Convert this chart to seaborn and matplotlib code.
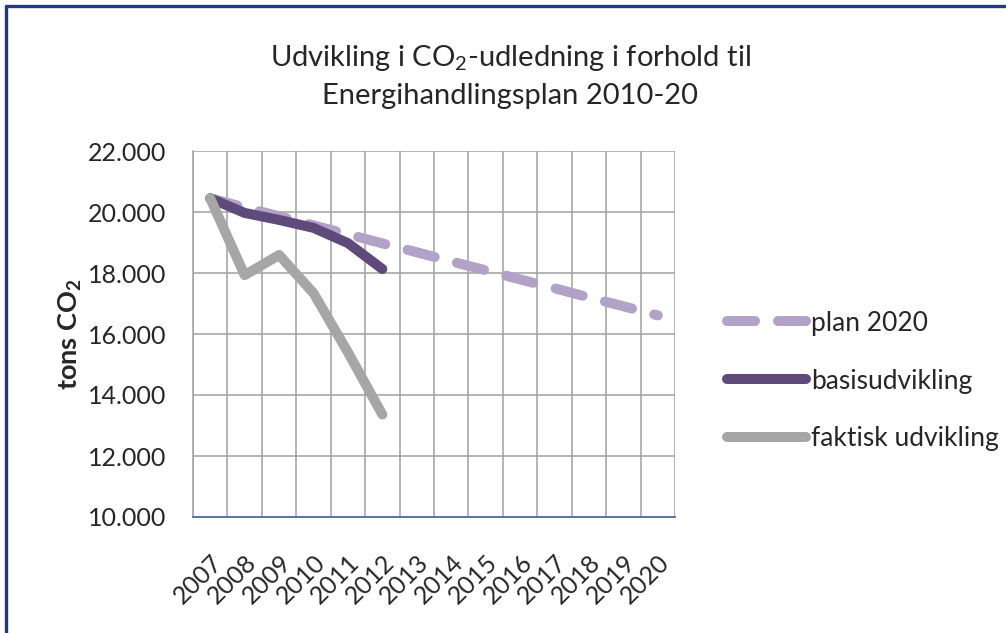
import matplotlib
matplotlib.use("Agg")
import matplotlib.pyplot as plt
import seaborn as sns
import pandas as pd
from matplotlib.lines import Line2D
from matplotlib.ticker import FuncFormatter, FixedLocator

years = ["2007", "2008", "2009", "2010", "2011", "2012", "2013",
         "2014", "2015", "2016", "2017", "2018", "2019", "2020"]
plan_2020 = [20450, 20150, 19860, 19560, 19270, 18970, 18680,
             18380, 18090, 17790, 17500, 17200, 16910, 16610]
basisudvikling = [20450, 19970, 19740, 19480, 18980, 18130]
faktisk_udvikling = [20450, 17930, 18590, 17340, 15400, 13360]
y_ticks = [10000, 12000, 14000, 16000, 18000, 20000, 22000]

sns.set_style("white")
plt.rcParams['font.family'] = ['Lato', 'DejaVu Sans']
plt.rcParams['mathtext.fontset'] = 'custom'
plt.rcParams['mathtext.rm'] = 'Lato'
plt.rcParams['mathtext.bf'] = 'Lato:bold'

W, H = 1006, 633
fig = plt.figure(figsize=(W / 100, H / 100), dpi=100)
ax = fig.add_axes([193 / W, 1 - 517 / H, (675 - 193) / W, (517 - 151) / H])

df_plan = pd.DataFrame({"x": range(len(years)), "y": plan_2020})
df_basis = pd.DataFrame({"x": range(len(basisudvikling)), "y": basisudvikling})
df_fak = pd.DataFrame({"x": range(len(faktisk_udvikling)), "y": faktisk_udvikling})

lw = 7.2
sns.lineplot(data=df_plan, x="x", y="y", ax=ax, color="#B3A2C7", linewidth=lw, zorder=3)
sns.lineplot(data=df_basis, x="x", y="y", ax=ax, color="#604A7B", linewidth=lw, zorder=4)
sns.lineplot(data=df_fak, x="x", y="y", ax=ax, color="#A6A6A6", linewidth=lw, zorder=5)

lines = ax.get_lines()
l_plan, l_basis, l_fak = lines[0], lines[1], lines[2]
l_plan.set_dashes((2.8, 2.3))
l_plan.set_dash_capstyle("round")
for l in (l_basis, l_fak):
    l.set_solid_capstyle("round")
    l.set_solid_joinstyle("round")

ax.set_xlim(-0.5, len(years) - 0.5)
ax.set_ylim(10000, 22000)
ax.set_xticks(range(len(years)))
ax.set_xticklabels(years, rotation=45, ha="right", rotation_mode="anchor", fontsize=18)
ax.xaxis.set_minor_locator(FixedLocator([i - 0.5 for i in range(len(years) + 1)]))
ax.set_yticks(y_ticks)
ax.yaxis.set_major_formatter(FuncFormatter(lambda v, p: f"{int(v):,}".replace(",", ".")))
ax.tick_params(axis="y", labelsize=18, length=0, pad=19)
ax.tick_params(axis="x", which="both", length=0, pad=24)

ax.grid(False)
ax.grid(True, axis="y", which="major", color="#A0A0A0", linewidth=1.1, zorder=0)
ax.grid(True, axis="x", which="minor", color="#A0A0A0", linewidth=1.1, zorder=0)
ax.set_axisbelow(True)
for s in ("top", "right"):
    ax.spines[s].set_visible(False)
ax.spines["left"].set_color("#A0A0A0")
ax.spines["left"].set_linewidth(1.1)
ax.spines["bottom"].set_color("#4F6D9E")
ax.spines["bottom"].set_linewidth(1.3)

ax.set_xlabel("")
ax.set_ylabel("")
fig.text(70 / W, 1 - 334 / H, "tons CO$_\\mathregular{2}$", rotation=90,
         ha="center", va="center", fontsize=19.5, fontweight="bold")

fig.text(510 / W, 1 - 76 / H,
         "Udvikling i CO$_\\mathregular{2}$-udledning i forhold til\nEnergihandlingsplan 2010-20",
         ha="center", va="center", fontsize=21, linespacing=1.45)

leg = fig.legend([l_plan, l_basis, l_fak], ["plan 2020", "basisudvikling", "faktisk udvikling"],
                 loc="center left", bbox_to_anchor=(727 / W, 1 - 381 / H), frameon=False,
                 fontsize=19, handlelength=3.0, handletextpad=0.2, labelspacing=1.25,
                 borderaxespad=0, borderpad=0)

border = "#1F3A80"
fig.add_artist(Line2D([6 / W, 1], [1 - 6 / H, 1 - 6 / H], color=border, linewidth=2.4,
                      transform=fig.transFigure))
fig.add_artist(Line2D([6 / W, 6 / W], [0, 1 - 6 / H], color=border, linewidth=2.4,
                      transform=fig.transFigure))

fig.savefig("out.png", dpi=100)
